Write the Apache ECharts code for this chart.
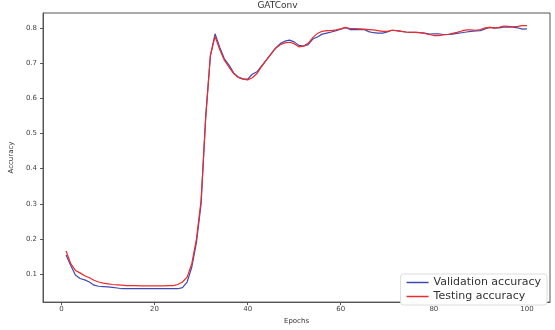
<!DOCTYPE html>
<html>
<head>
<meta charset="utf-8">
<script src="https://cdn.jsdelivr.net/npm/echarts@6/dist/echarts.min.js"></script>
<style>
  html, body { margin: 0; padding: 0; background: #fff; }
  #chart { width: 555px; height: 330px; }
</style>
</head>
<body>
<div id="chart"></div>
<script>
// epochs 1..100
const epochs = Array.from({ length: 100 }, (_, i) => i + 1)

const validationAcc = [
  0.155, 0.125, 0.098, 0.088, 0.084, 0.078, 0.069, 0.066, 0.065, 0.064,
  0.063, 0.061, 0.059, 0.059, 0.059, 0.059, 0.059, 0.059, 0.059, 0.059,
  0.059, 0.059, 0.059, 0.059, 0.059, 0.062, 0.078, 0.120, 0.190, 0.300,
  0.550, 0.720, 0.783, 0.745, 0.712, 0.694, 0.672, 0.660, 0.655, 0.654,
  0.668, 0.675, 0.692, 0.708, 0.725, 0.742, 0.755, 0.762, 0.765, 0.760,
  0.750, 0.748, 0.752, 0.768, 0.774, 0.782, 0.785, 0.788, 0.792, 0.796,
  0.800, 0.795, 0.795, 0.795, 0.795, 0.789, 0.786, 0.785, 0.785, 0.788,
  0.793, 0.792, 0.790, 0.788, 0.787, 0.787, 0.786, 0.785, 0.782, 0.783,
  0.783, 0.781, 0.781, 0.782, 0.784, 0.786, 0.788, 0.790, 0.791, 0.792,
  0.797, 0.801, 0.800, 0.800, 0.802, 0.802, 0.802, 0.800, 0.796, 0.797
]

const testingAcc = [
  0.166, 0.130, 0.111, 0.104, 0.096, 0.090, 0.083, 0.078, 0.075, 0.073,
  0.071, 0.070, 0.069, 0.068, 0.068, 0.068, 0.067, 0.067, 0.067, 0.067,
  0.067, 0.067, 0.068, 0.068, 0.071, 0.078, 0.092, 0.130, 0.200, 0.310,
  0.545, 0.722, 0.775, 0.738, 0.708, 0.688, 0.670, 0.659, 0.654, 0.652,
  0.658, 0.670, 0.690, 0.708, 0.725, 0.742, 0.752, 0.757, 0.759, 0.755,
  0.746, 0.748, 0.756, 0.772, 0.784, 0.790, 0.792, 0.792, 0.794, 0.797,
  0.801, 0.798, 0.798, 0.797, 0.796, 0.795, 0.794, 0.792, 0.790, 0.790,
  0.793, 0.792, 0.790, 0.788, 0.787, 0.787, 0.786, 0.784, 0.781, 0.778,
  0.778, 0.780, 0.781, 0.784, 0.787, 0.791, 0.794, 0.794, 0.793, 0.795,
  0.800, 0.801, 0.799, 0.801, 0.805, 0.804, 0.803, 0.804, 0.806, 0.806
]

const xTicks = [0, 20, 40, 60, 80, 100]
const yTicks = [0.1, 0.2, 0.3, 0.4, 0.5, 0.6, 0.7, 0.8]

const font = 'DejaVu Sans'
const axisColor = '#555'

const myChart = echarts.init(document.getElementById('chart'))

const option = {
  animation: false,
  textStyle: { fontFamily: font },
  title: {
    text: 'GATConv',
    left: 'center',
    top: 1,
    padding: 0,
    textStyle: { fontFamily: font, fontSize: 9, fontWeight: 'normal', color: '#333' }
  },
  grid: {
    left: 40,
    right: 5,
    top: 13,
    bottom: 20,
    show: true,
    borderColor: axisColor,
    borderWidth: 1
  },
  legend: {
    orient: 'vertical',
    right: 8,
    bottom: 25,
    icon: 'rect',
    itemWidth: 22,
    itemHeight: 1.5,
    itemGap: 3,
    padding: [3, 6, 3, 6],
    borderColor: '#ddd',
    borderWidth: 1,
    borderRadius: 3,
    backgroundColor: '#fff',
    textStyle: { fontFamily: font, fontSize: 11, color: '#333' },
    data: ['Validation accuracy', 'Testing accuracy']
  },
  xAxis: {
    type: 'value',
    min: -3.95,
    max: 104.95,
    name: 'Epochs',
    nameLocation: 'middle',
    nameGap: 12,
    nameTextStyle: { fontFamily: font, fontSize: 7, color: '#333' },
    axisLine: { onZero: false, lineStyle: { color: axisColor } },
    axisTick: { show: true, length: 3, customValues: xTicks, lineStyle: { color: axisColor } },
    axisLabel: { customValues: xTicks, fontSize: 7, color: '#444', margin: 4 },
    splitLine: { show: false }
  },
  yAxis: {
    type: 'value',
    min: 0.021,
    max: 0.842,
    name: 'Accuracy',
    nameLocation: 'middle',
    nameGap: 26,
    nameTextStyle: { fontFamily: font, fontSize: 7, color: '#333' },
    axisLine: { show: true, onZero: false, lineStyle: { color: axisColor } },
    axisTick: { show: true, length: 3, customValues: yTicks, lineStyle: { color: axisColor } },
    axisLabel: {
      customValues: yTicks,
      fontSize: 7,
      color: '#444',
      margin: 6,
      formatter: v => v.toFixed(1)
    },
    splitLine: { show: false }
  },
  series: [
    {
      name: 'Validation accuracy',
      type: 'line',
      showSymbol: false,
      lineStyle: { color: '#3f4ab0', width: 1.2 },
      itemStyle: { color: '#3f4ab0' },
      data: epochs.map((e, i) => [e, validationAcc[i]])
    },
    {
      name: 'Testing accuracy',
      type: 'line',
      showSymbol: false,
      lineStyle: { color: '#ee2a2a', width: 1.2 },
      itemStyle: { color: '#ee2a2a' },
      data: epochs.map((e, i) => [e, testingAcc[i]])
    }
  ]
}

myChart.setOption(option)
</script>
</body>
</html>
